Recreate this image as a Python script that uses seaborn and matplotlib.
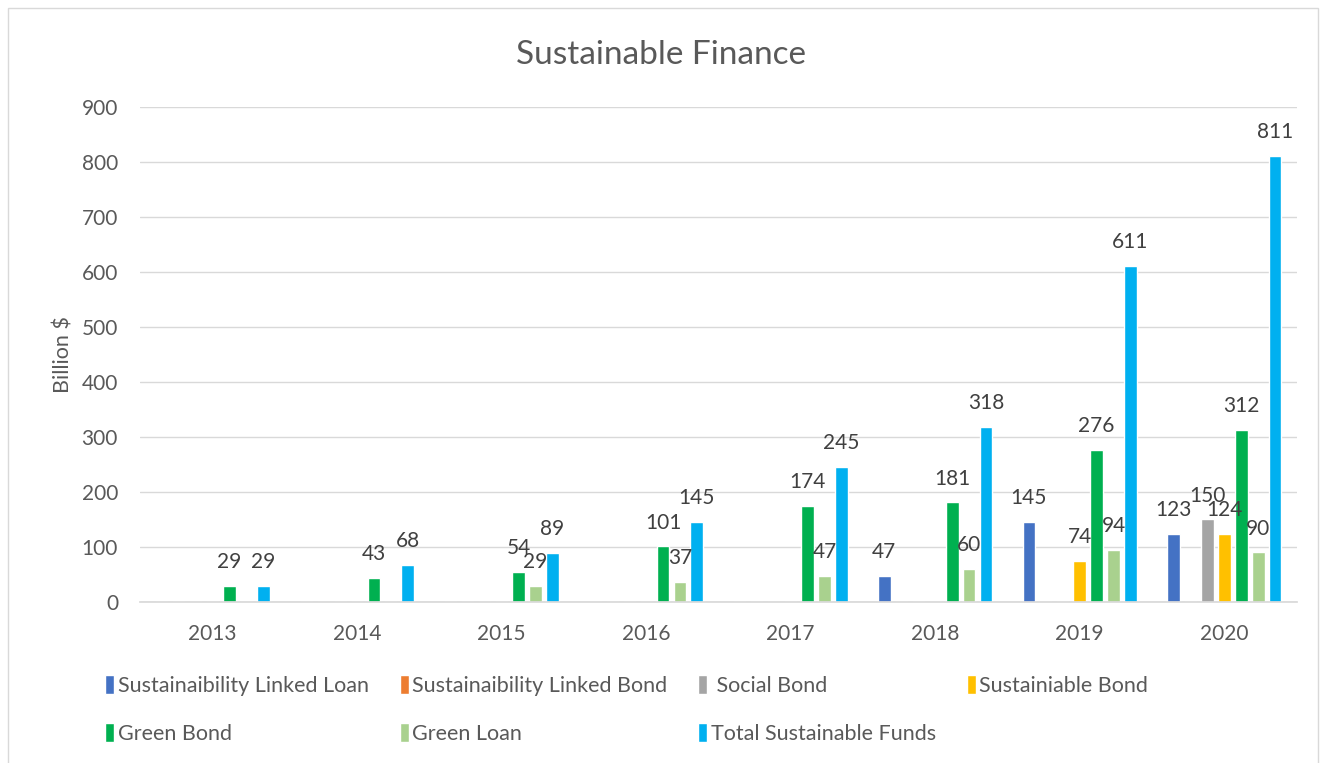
import pandas as pd
import numpy as np
import matplotlib
matplotlib.use("Agg")
import matplotlib.pyplot as plt
import seaborn as sns
from matplotlib.patches import Rectangle

# ======================================================
# DATOS
# ======================================================

years = ["2013", "2014", "2015", "2016", "2017", "2018", "2019", "2020"]

series_names = [
    "Sustainaibility Linked Loan",
    "Sustainaibility Linked Bond",
    " Social Bond",
    "Sustainiable Bond",
    "Green Bond",
    "Green Loan",
    "Total Sustainable Funds",
]

linked_loan = [0, 0, 0, 0, 0, 47, 145, 123]
linked_bond = [0, 0, 0, 0, 0, 0, 0, 0]
social_bond = [0, 0, 0, 0, 0, 0, 0, 150]
sustainable_bond = [0, 0, 0, 0, 0, 0, 74, 124]
green_bond = [29, 43, 54, 101, 174, 181, 276, 312]
green_loan = [0, 0, 29, 37, 47, 60, 94, 90]
total_funds = [29, 68, 89, 145, 245, 318, 611, 811]

colors = ["#4472C4", "#ED7D31", "#A5A5A5", "#FFC000", "#00B050", "#A9D18E", "#00B0F0"]

valores = [linked_loan, linked_bond, social_bond, sustainable_bond,
           green_bond, green_loan, total_funds]

df = pd.DataFrame({
    "year": years * len(series_names),
    "serie": [s for s in series_names for _ in years],
    "valor": [v for serie in valores for v in serie],
})

# ======================================================
# FIGURA
# ======================================================

sns.set_theme(style="white")
plt.rcParams["font.family"] = ["Lato", "DejaVu Sans"]
texto = "#595959"

fig = plt.figure(figsize=(13.23, 7.63), dpi=100)
ax = fig.add_axes([0.106, 0.211, 0.874, 0.649])

sns.barplot(data=df, x="year", y="valor", hue="serie", order=years,
            hue_order=series_names, palette=colors, width=0.82, gap=0.24,
            saturation=1, ax=ax, legend=True)

# etiquetas solo para valores distintos de cero
for cont in ax.containers:
    labels = [f"{b.get_height():.0f}" if b.get_height() > 0 else "" for b in cont]
    ax.bar_label(cont, labels=labels, padding=10, fontsize=15, color="#404040")

ax.set_ylim(0, 900)
ax.set_yticks(range(0, 901, 100))
ax.set_xlim(-0.5, 7.5)
ax.grid(axis="y", color="#D9D9D9", linewidth=1)
ax.set_axisbelow(True)
for lado in ["left", "right", "top"]:
    ax.spines[lado].set_visible(False)
ax.spines["bottom"].set_color("#D9D9D9")

ax.set_xticks(np.arange(-0.5, 8, 1), minor=True)
ax.tick_params(axis="x", which="minor", length=7, color="#D9D9D9", width=1)
ax.tick_params(axis="x", which="major", length=0, pad=16, labelsize=15, labelcolor=texto)
ax.tick_params(axis="y", length=0, labelsize=15, labelcolor=texto, pad=16)

ax.set_xlabel("")
ax.set_ylabel("Billion $", fontsize=15.5, color=texto, labelpad=6)
fig.suptitle("Sustainable Finance", fontsize=24, color=texto, y=0.948)

# leyenda en orden por filas
handles, labs = ax.get_legend_handles_labels()
orden = [0, 4, 1, 5, 2, 6, 3]
ax.legend([handles[i] for i in orden], [labs[i] for i in orden],
          loc="upper left", bbox_to_anchor=(-0.047, -0.108), ncol=4,
          frameon=False, fontsize=15.5, labelcolor=texto,
          handlelength=0.42, handleheight=1.0, handletextpad=0.15,
          columnspacing=1.45, labelspacing=1.25)

# borde del grafico
fig.patches.append(Rectangle((8 / 1323, -0.1), 1310 / 1323, 1.1 - 8 / 763,
                             transform=fig.transFigure, fill=False,
                             edgecolor="#D9D9D9", linewidth=1))

plt.savefig("out.png", dpi=100)
plt.close()
